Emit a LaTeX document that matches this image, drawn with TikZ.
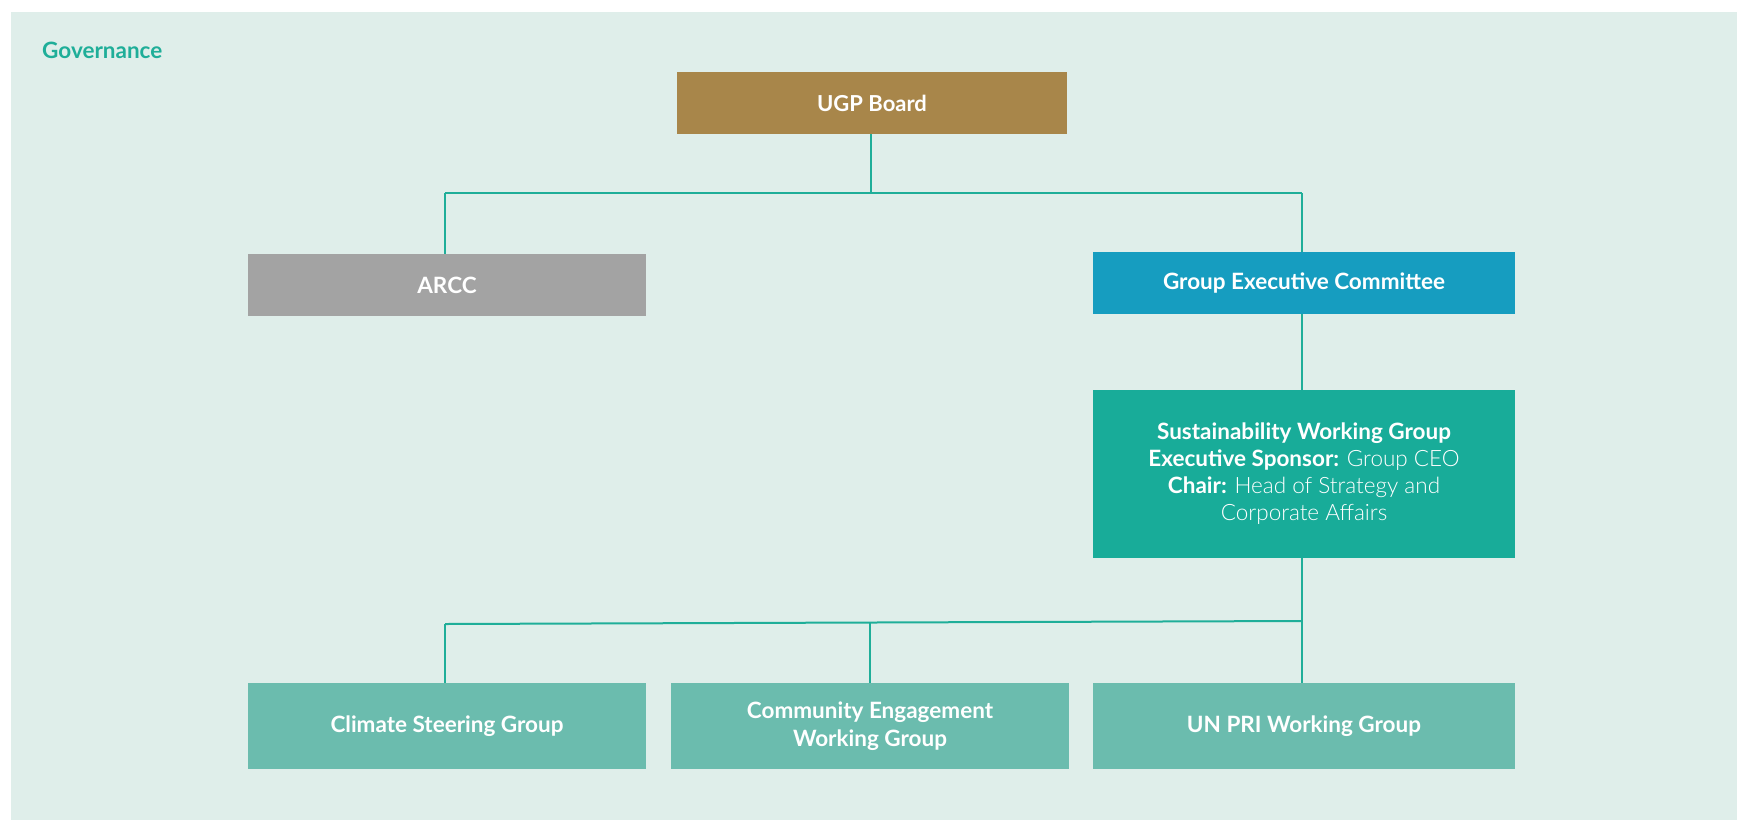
\documentclass[tikz,border=0pt]{standalone}
\usepackage{fontspec}
\setmainfont{Lato}
\newfontfamily\lightfont{Lato Light}
\usetikzlibrary{positioning}
\definecolor{panel}{HTML}{DFEEEA}
\definecolor{board}{HTML}{A8864A}
\definecolor{arcc}{HTML}{A3A3A3}
\definecolor{gec}{HTML}{169DC0}
\definecolor{swg}{HTML}{18AC99}
\definecolor{sub}{HTML}{6BBCAE}
\definecolor{conn}{HTML}{1FAE99}
\begin{document}
\begin{tikzpicture}[x=1pt,y=-1pt,
  orgbox/.style={fill=#1,draw=none,text=white,inner sep=0pt,align=center,font=\fontsize{22.5}{28}\selectfont\bfseries},
  link/.style={draw=conn,line width=2pt}]
\fill[white] (0,0) rectangle (1737,820);
\useasboundingbox (0,0) rectangle (1737,820);
\fill[panel] (11,12) rectangle (1737,820);
\node[anchor=west,inner sep=0pt,text=conn,font=\fontsize{22.5}{26}\selectfont\bfseries] (title) at (42,50) {Governance};
% boxes
\node[orgbox=board,minimum width=390pt,minimum height=62pt,font=\fontsize{22}{26}\selectfont\bfseries] (ugp) at (872,103) {UGP Board};
\node[orgbox=arcc,minimum width=398pt,minimum height=62pt] (arcc) at (447,285) {ARCC};
\node[orgbox=gec,minimum width=422pt,minimum height=62pt] (gec) at (1304,283) {Group Executive Committee};
\node[orgbox=swg,minimum width=422pt,minimum height=168pt,font=\fontsize{22.5}{27}\selectfont] (swg) at (1304,474)
  {\textbf{Sustainability Working Group}\\
   \textbf{Executive Sponsor:} {\lightfont Group CEO}\\
   \textbf{Chair:} {\lightfont Head of Strategy and}\\
   {\lightfont Corporate Affairs}};
\node[orgbox=sub,minimum width=398pt,minimum height=86pt] (csg) at (447,726) {Climate Steering Group};
\node[orgbox=sub,minimum width=398pt,minimum height=86pt] (ceg) at (870,726) {Community Engagement\\Working Group};
\node[orgbox=sub,minimum width=422pt,minimum height=86pt] (unpri) at (1304,726) {UN PRI Working Group};
% connector coordinates
\coordinate (jtop) at (871,193);
\coordinate (jl) at (445,193);
\coordinate (jr) at (1302,193);
\coordinate (bl) at (445,624);
\coordinate (bm) at (870,622.5);
\coordinate (br) at (1302,621);
% connectors
\draw[link] (ugp.south -| jtop) -- (jtop);
\draw[link] (jl) -- (jr);
\draw[link] (jl) -- (jl |- arcc.north);
\draw[link] (jr) -- (jr |- gec.north);
\draw[link] (jr |- gec.south) -- (jr |- swg.north);
\draw[link] (br |- swg.south) -- (br |- unpri.north);
\draw[link] (bl) -- (br);
\draw[link] (bl) -- (bl |- csg.north);
\draw[link] (bm) -- (bm |- ceg.north);
\end{tikzpicture}
\end{document}
